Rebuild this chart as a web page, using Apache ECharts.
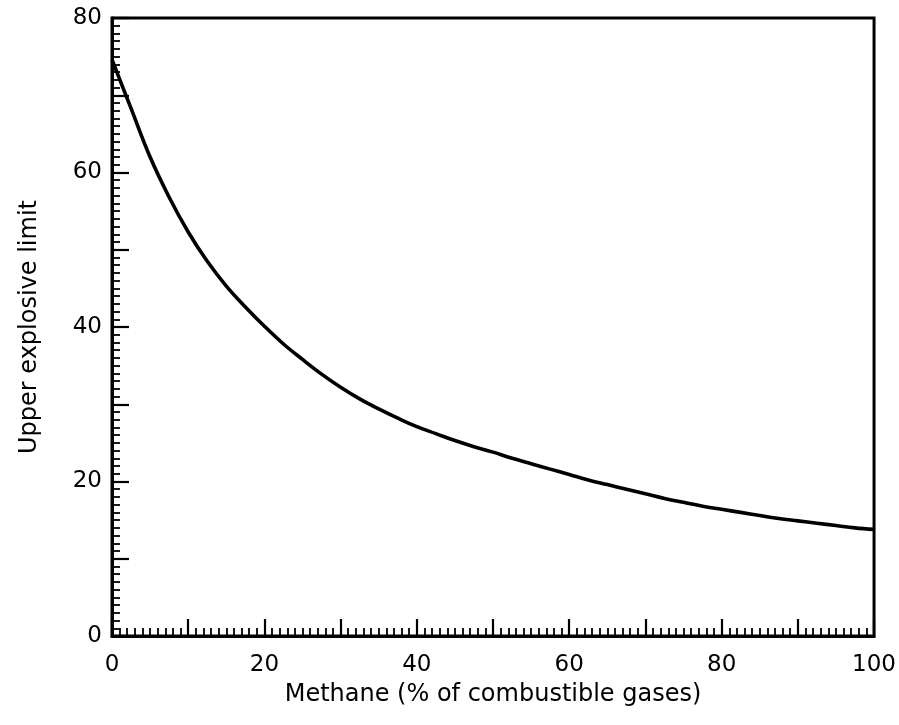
<!DOCTYPE html>
<html>
<head>
<meta charset="utf-8">
<script src="https://cdn.jsdelivr.net/npm/echarts@6/dist/echarts.min.js"></script>
<style>
  html, body { margin: 0; padding: 0; background: #fff; }
  #chart { width: 899px; height: 725px; }
</style>
</head>
<body>
<div id="chart"></div>
<script>
// Methane share of the combustible gases (%)
const methanePct = [0, 2.5, 5, 7.5, 10, 12.5, 15, 17.5, 20, 22.5, 25, 27.5, 30, 32.5, 35, 37.5, 40, 42.5, 45, 47.5,
  50, 52.5, 55, 57.5, 60, 62.5, 65, 67.5, 70, 72.5, 75, 77.5, 80, 82.5, 85, 87.5, 90, 92.5, 95, 97.5, 100];
// Upper explosive limit of the mixture
const upperLimit = [74.6, 68.3, 62.0, 56.8, 52.3, 48.5, 45.3, 42.6, 40.1, 37.8, 35.8, 33.9, 32.2, 30.7, 29.4, 28.2, 27.1, 26.2, 25.3, 24.5,
  23.8, 23.0, 22.3, 21.6, 20.9, 20.2, 19.6, 19.0, 18.4, 17.8, 17.3, 16.8, 16.4, 16.0, 15.6, 15.2, 14.9, 14.6, 14.3, 14.0, 13.8];

const xTitle = 'Methane (% of combustible gases)';
const yTitle = 'Upper explosive limit';

const font = 'DejaVu Sans';
const ink = '#000';

const chart = echarts.init(document.getElementById('chart'));

// numbers are printed on every second major tick
function everyOther(v) {
  return Math.round(v) % 20 === 0 ? String(Math.round(v)) : '';
}

const commonAxis = {
  type: 'value',
  nameLocation: 'middle',
  nameTextStyle: { fontFamily: font, fontSize: 24, color: ink },
  axisLine: { show: true, lineStyle: { color: ink, width: 3 } },
  axisTick: { show: true, inside: true, length: 17, lineStyle: { color: ink, width: 2.2 } },
  minorTick: { show: true, splitNumber: 10, length: 8, lineStyle: { color: ink, width: 1.8 } },
  splitLine: { show: false },
  minorSplitLine: { show: false }
};

chart.setOption({
  animation: false,
  backgroundColor: '#fff',
  grid: {
    left: 112, right: 23, top: 18, bottom: 89,
    show: true, borderColor: ink, borderWidth: 3, backgroundColor: 'transparent'
  },
  xAxis: Object.assign({}, commonAxis, {
    min: 0, max: 100, interval: 10,
    name: xTitle, nameGap: 47,
    axisLabel: { formatter: everyOther, margin: 18, fontFamily: font, fontSize: 23, color: ink }
  }),
  yAxis: Object.assign({}, commonAxis, {
    min: 0, max: 80, interval: 10,
    name: yTitle, nameGap: 70,
    axisLabel: { formatter: everyOther, margin: 10, fontFamily: font, fontSize: 23, color: ink }
  }),
  series: [{
    type: 'line',
    data: methanePct.map((x, i) => [x, upperLimit[i]]),
    smooth: 0.4,
    showSymbol: false,
    lineStyle: { color: ink, width: 3.6 },
    clip: true
  }]
});
</script>
</body>
</html>
